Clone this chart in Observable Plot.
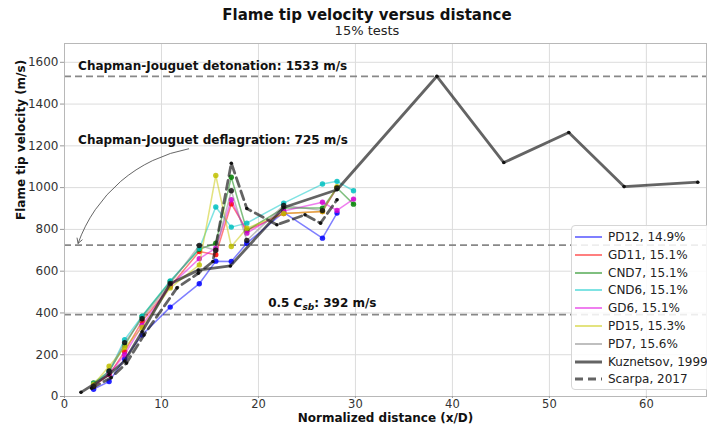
<!DOCTYPE html>
<html><head><meta charset="utf-8">
<script src="https://cdn.jsdelivr.net/npm/d3@7"></script>
<script src="https://cdn.jsdelivr.net/npm/@observablehq/plot@0.6"></script>
<style>
body{margin:0;background:#fff;font-family:"DejaVu Sans",sans-serif;}
#wrap{position:relative;width:707px;height:430px;overflow:hidden;}
#title{position:absolute;left:0;width:734px;top:6px;text-align:center;font-weight:bold;font-size:15px;line-height:18px;color:#111;}
#subtitle{position:absolute;left:0;width:734px;top:23px;text-align:center;font-size:13px;line-height:15px;color:#222;}
#legend{position:absolute;left:571px;top:225px;width:140px;height:163px;border:1px solid #d6d6d6;border-radius:4px;background:rgba(255,255,255,0.85);}
#legend .row{position:absolute;left:0;height:16px;font-size:12px;line-height:16px;color:#222;white-space:nowrap;}
#legend svg{position:absolute;left:2px;top:0;}
#legend span{position:absolute;left:36px;top:0;}
</style>
</head><body>
<div id="wrap">
<div id="chart"></div>
<div id="title">Flame tip velocity versus distance</div>
<div id="subtitle">15% tests</div>
<div id="legend"></div>
</div>
<script>
// Measurement stations (x/D) shared by the test series
const stations = [3.0, 4.6, 6.2, 8.0, 10.9, 13.9, 15.6, 17.2, 18.8, 22.6, 26.6, 28.1, 29.8];
// Test series (flame tip velocity, m/s)
const PD12 = [35, 72, 180, 295, 428, 540, 648, 646, 734, 882, 758, 878];
const GD11 = [50, 105, 215, 360, 527, 694, 679, 922, 795, 876, 886, 1000];
const CND7 = [65, 120, 245, 383, 551, 705, 734, 1050, 795, 902, 902, 998, 921];
const CND6 = [60, 118, 272, 385, 553, 708, 907, 811, 830, 926, 1017, 1030, 985];
const GD6  = [52, 108, 200, 340, 530, 660, 710, 942, 782, 888, 930, 891, 945];
const PD15 = [58, 145, 235, 330, 520, 630, 1058, 718, 806, 876, 886, 1005];
const PD7  = [48, 122, 258, 372, 541, 723, 700, 985, 747, 915, 890, 998];
// Literature
const kuzX = [1.7, 4.6, 6.2, 8.0, 10.9, 13.8, 17.1, 22.6, 28.1, 38.4, 45.3, 52.0, 57.7, 65.3];
const kuzY = [20, 105, 170, 310, 540, 605, 625, 905, 990, 1533, 1120, 1264, 1005, 1026];
const scaX = [2.8, 4.8, 6.4, 8.2, 11.6, 13.8, 15.3, 17.2, 18.8, 21.9, 24.8, 26.4, 28.1];
const scaY = [40, 90, 160, 295, 520, 590, 646, 1117, 900, 822, 870, 830, 942];

const seriesNames = ["PD12, 14.9%", "GD11, 15.1%", "CND7, 15.1%", "CND6, 15.1%", "GD6, 15.1%", "PD15, 15.3%", "PD7, 15.6%"];
const seriesValues = [PD12, GD11, CND7, CND6, GD6, PD15, PD7];
const lineColors = ["#0000ff", "#ff0000", "#008000", "#00c8c8", "#e000e0", "#c8c800", "#808080"];
const dotColors  = ["#0000ff", "#ff0000", "#008000", "#00c0c0", "#d000d0", "#c0c000", "#111111"];

// Reference levels
const refValues = [1533, 725, 392];
const annX = [1.4, 1.4];
const annY = [1580, 1226];
const annText = ["Chapman-Jouguet detonation: 1533 m/s", "Chapman-Jouguet deflagration: 725 m/s"];
const csbX = 21.0, csbY = 445;
const arrowFrom = [12.8, 1186];
const arrowTo = [1.4, 733];

const xTicks = [0, 10, 20, 30, 40, 50, 60];
const yTicks = [0, 200, 400, 600, 800, 1000, 1200, 1400, 1600];

const tests = [];
seriesValues.forEach((vals, i) => vals.forEach((v, j) => tests.push({name: seriesNames[i], idx: i, x: stations[j], y: v})));
const kuz = kuzX.map((x, i) => ({x, y: kuzY[i]}));
const sca = scaX.map((x, i) => ({x, y: scaY[i]}));

const testMarks = seriesNames.flatMap((n, i) => {
  const d = tests.filter(t => t.idx === i);
  return [
    Plot.line(d, {x: "x", y: "y", stroke: lineColors[i], strokeOpacity: 0.5, strokeWidth: 1.5}),
    Plot.dot(d, {x: "x", y: "y", fill: dotColors[i], fillOpacity: 0.85, r: 2.7})
  ];
});

const svg = Plot.plot({
  width: 707, height: 430,
  marginTop: 43, marginBottom: 34, marginLeft: 64, marginRight: 1,
  style: {fontFamily: "DejaVu Sans, sans-serif", fontSize: "12px", color: "#333", background: "white"},
  x: {domain: [0, 66.2]},
  y: {domain: [0, 1690]},
  marks: [
    Plot.gridX(xTicks, {stroke: "#dcdcdc", strokeOpacity: 1}),
    Plot.gridY(yTicks, {stroke: "#dcdcdc", strokeOpacity: 1}),
    Plot.ruleY(refValues, {stroke: "#888", strokeWidth: 1.8, strokeDasharray: "7,4"}),
    ...testMarks,
    Plot.line(kuz, {x: "x", y: "y", stroke: "#222", strokeOpacity: 0.7, strokeWidth: 2.8}),
    Plot.dot(kuz, {x: "x", y: "y", fill: "#111", r: 1.8}),
    Plot.line(sca, {x: "x", y: "y", stroke: "#222", strokeOpacity: 0.7, strokeWidth: 2.8, strokeDasharray: "9,5"}),
    Plot.dot(sca, {x: "x", y: "y", fill: "#111", r: 1.8}),
    Plot.text(annText.map((t, i) => ({t, x: annX[i], y: annY[i]})), {x: "x", y: "y", text: "t", textAnchor: "start", fontWeight: "bold", fontSize: 12, fill: "#111"}),
    Plot.text([{x: csbX, y: csbY}], {x: "x", y: "y", text: () => "0.5 Csb: 392 m/s", textAnchor: "start", fontWeight: "bold", fontSize: 12, fill: "#111", className: "csb"}),
    Plot.arrow([{x1: arrowFrom[0], y1: arrowFrom[1], x2: arrowTo[0], y2: arrowTo[1]}], {x1: "x1", y1: "y1", x2: "x2", y2: "y2", bend: -30, stroke: "#555", strokeWidth: 0.9, headLength: 9}),
    Plot.frame({stroke: "#b8b8b8"}),
    Plot.axisX(xTicks, {tickSize: 2, tickPadding: 1, fontSize: 11.5, label: null, stroke: "#999", fill: "#333", tickFormat: d3.format("d")}),
    Plot.axisY(yTicks, {tickSize: 4, tickPadding: 2, label: null, stroke: "#999", fill: "#333", tickFormat: d3.format("d")}),
    Plot.text(["Normalized distance (x/D)"], {frameAnchor: "bottom", dy: 25, fontWeight: "bold", fontSize: 12, fill: "#111"}),
    Plot.text(["Flame tip velocity (m/s)"], {frameAnchor: "left", dx: -43, rotate: -90, fontWeight: "bold", fontSize: 12, fill: "#111"})
  ]
});
document.getElementById("chart").appendChild(svg);

// Rich text for 0.5 C_sb
const ct = svg.querySelector(".csb text");
if (ct) {
  const ns = "http://www.w3.org/2000/svg";
  ct.textContent = "";
  const parts = [["0.5 ", {}], ["C", {"font-style": "italic"}], ["sb", {"font-style": "italic", "font-size": "9px", "dy": "3"}], [": 392 m/s", {"dy": "-3"}]];
  for (const [txt, attrs] of parts) {
    const ts = document.createElementNS(ns, "tspan");
    for (const k in attrs) ts.setAttribute(k, attrs[k]);
    ts.textContent = txt;
    ct.appendChild(ts);
  }
}

// Legend
const legendNames = [...seriesNames, "Kuznetsov, 1999", "Scarpa, 2017"];
const legendColors = [...lineColors, "#222", "#222"];
const legendOpacity = [0.5, 0.5, 0.5, 0.5, 0.5, 0.5, 0.5, 0.7, 0.7];
const legendWidth = [2, 2, 2, 2, 2, 2, 2, 3, 3];
const legendDash = [null, null, null, null, null, null, null, null, "8,5"];
const leg = document.getElementById("legend");
legendNames.forEach((n, i) => {
  const row = document.createElement("div");
  row.className = "row";
  row.style.top = (3 + i * 17.8) + "px";
  const dash = legendDash[i] ? `stroke-dasharray="${legendDash[i]}"` : "";
  row.innerHTML = `<svg width="30" height="16"><line x1="1" x2="28" y1="8" y2="8" stroke="${legendColors[i]}" stroke-opacity="${legendOpacity[i]}" stroke-width="${legendWidth[i]}" ${dash}/></svg><span>${n}</span>`;
  leg.appendChild(row);
});
</script>
</body></html>
